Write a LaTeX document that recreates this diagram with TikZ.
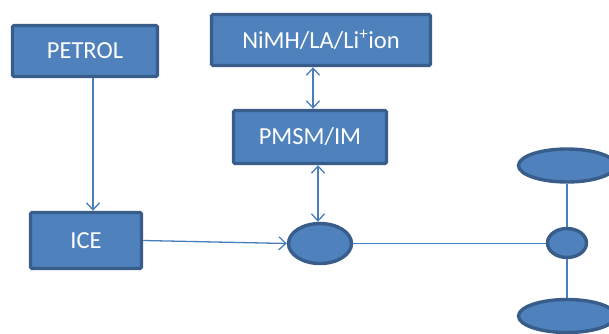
\documentclass[tikz,border=0pt]{standalone}
\usepackage{fontspec}
\setmainfont{Carlito}
\usetikzlibrary{arrows.meta,shapes.geometric}
\definecolor{boxfill}{HTML}{4F81BD}
\definecolor{boxedge}{HTML}{385D8A}
\definecolor{wire}{HTML}{4A7EBB}
\tikzset{
  block/.style={draw=boxedge, fill=boxfill, line width=3.4pt, rounded corners=1.5pt,
    text=white, font=\fontsize{24.5}{28}\selectfont, inner sep=0pt, anchor=center},
  disc/.style={draw=boxedge, fill=boxfill, line width=3.4pt, ellipse, inner sep=0pt},
  link/.style={draw=wire, line width=1.3pt},
  tip/.style={-{Straight Barb[length=7pt,width=13pt,line width=1.3pt]}},
  bitip/.style={{Straight Barb[length=7pt,width=13pt,line width=1.3pt]}-{Straight Barb[length=7pt,width=13pt,line width=1.3pt]}}
}
\begin{document}
\begin{tikzpicture}[x=1pt,y=-1pt]
\useasboundingbox (0,0) rectangle (609,333);
\begin{scope}
\clip (0,0) rectangle (609,333);
% power sources and converters
\node[block, minimum width=145, minimum height=51] (petrol) at (85,51) {PETROL};
\node[block, minimum width=219, minimum height=51] (batt) at (321,40) {NiMH/LA/Li\textsuperscript{+}ion};
\node[block, minimum width=153, minimum height=53] (motor) at (310,137) {PMSM/IM};
\node[block, minimum width=111, minimum height=56] (ice) at (86,240.5) {ICE};
% coupling device, differential and wheels
\node[disc, minimum width=63, minimum height=40] (hub) at (320,243.5) {};
\node[disc, minimum width=39, minimum height=29] (diff) at (567,243) {};
\node[disc, minimum width=97, minimum height=33] (wtop) at (567,165.5) {};
\node[disc, minimum width=97, minimum height=33] (wbot) at (567,316) {};
\end{scope}
% connectors
\draw[link, tip] ([xshift=8]petrol.south) -- ([xshift=7]ice.north);
\draw[link, tip] (ice.east) -- (hub.west);
\draw[link, bitip] ([xshift=3]motor.north |- batt.south) -- ([xshift=3]motor.north);
\draw[link, bitip] ([xshift=8]motor.south) -- ([xshift=8]motor.south |- hub.north);
\draw[link] (hub.east) -- (diff.west |- hub.east);
\draw[link] (wtop.south) -- (diff.north);
\draw[link] (diff.south) -- (wbot.north);
\end{tikzpicture}
\end{document}
